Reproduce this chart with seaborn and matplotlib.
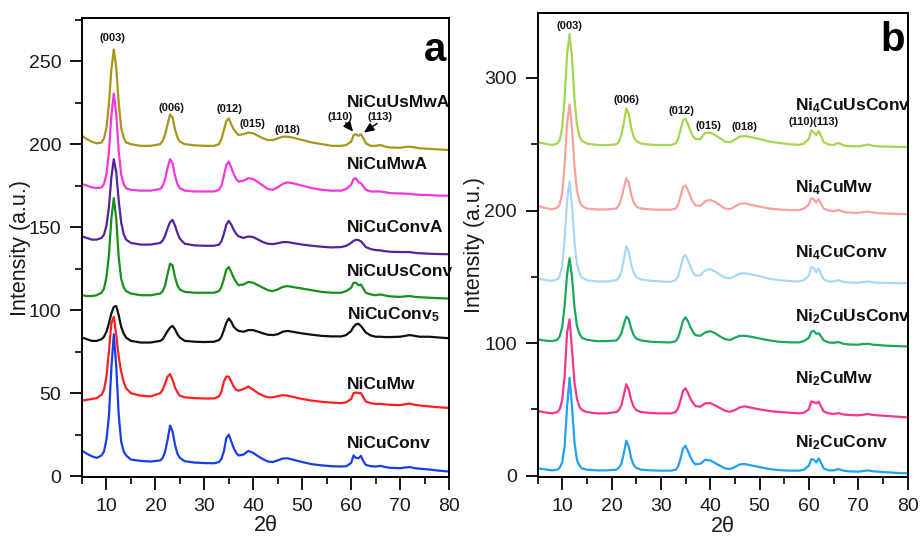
import numpy as np
import pandas as pd
import matplotlib
matplotlib.use("Agg")
import matplotlib.pyplot as plt
from matplotlib.ticker import MultipleLocator
import seaborn as sns

# ---------------- data ----------------
two_theta = [5, 6, 7, 8, 9, 9.5, 10, 10.5, 11, 11.5, 12, 12.5, 13, 13.5, 14, 15, 17, 19,
             21, 21.5, 22, 22.5, 23, 23.5, 24, 24.5, 25, 26, 28, 30, 32, 33, 33.5, 34, 34.5,
             35, 35.5, 36, 36.5, 37, 38, 39, 40, 41, 42, 43, 44, 45, 46, 47, 48, 50, 52, 54,
             56, 58, 59, 60, 60.5, 61, 61.5, 62, 62.5, 63, 64, 65, 66, 67, 68, 70, 71, 72,
             73, 74, 76, 78, 80]

# panel a
NiCuConv = [15.3, 13.5, 12, 11, 12.5, 15, 22, 36, 65, 85.5, 66, 37, 21, 15, 12.5, 10, 9.2, 8.8,
            9.5, 11, 15, 22, 30.5, 27, 19, 13.5, 11, 9, 8.2, 7.9, 7.8, 8.5, 10.5, 15, 23,
            25, 21, 17, 14, 12.5, 13, 15.2, 14, 12, 10.2, 8.8, 8.5, 9.5, 10.6, 10.8, 10, 8.5, 7.2, 6.5,
            6, 5.8, 6, 8, 12.5, 11, 10.8, 12.2, 9, 6.8, 6, 5.8, 6.2, 5.5, 5, 4.8, 5.2, 5.5,
            4.8, 4.5, 4, 3.3, 2.8]
NiCuMw = [45.5, 46, 46.5, 47, 49, 52, 60, 75, 92, 96, 85, 72, 63, 57, 53, 50, 48.5, 48,
          50, 52, 56, 60, 61.4, 58, 53.5, 50.5, 48.5, 47.5, 47, 46.8, 46.8, 48, 51, 57, 60,
          60, 57, 54, 52, 51.5, 52.5, 54, 52, 50, 48.5, 47.5, 47.5, 48.2, 48.8, 48.5, 47.8, 46.5, 45.5, 44.8,
          44.3, 44, 44.5, 46.5, 50, 50.4, 50, 50, 47.5, 45, 44, 43.5, 43.5, 43.2, 43, 42.8, 43.3, 43.7,
          43, 42.6, 42, 41.5, 41.1]
NiCuConv5 = [83.5, 82.5, 81.5, 81.5, 82.5, 84, 87, 92, 98, 102, 102.5, 97, 90, 86, 83.5, 81.5, 80.5, 80.5,
             81.5, 82.5, 85, 87.5, 89.5, 90.5, 88.5, 85.5, 83.5, 81.5, 81, 80.8, 81, 82, 84, 88, 92.5,
             95, 93, 90, 88.5, 87.5, 87, 88, 88, 87, 86, 85.2, 85, 85.5, 87, 87.5, 87, 86, 85.2, 84.5,
             84.2, 84.2, 85, 87.5, 90, 91.5, 91.8, 90.5, 88.5, 86.5, 84.8, 84, 84, 83.8, 83.8, 84, 84.5, 85,
             84.5, 84, 84, 83.5, 83.1]
NiCuUsConv = [109, 108.5, 108.5, 109, 110.5, 113, 120, 133, 155, 167.5, 155, 132, 119, 114, 111.5, 110, 109, 109,
              110, 111.5, 115, 122, 128, 127, 120, 115, 112.5, 111, 110.5, 110.5, 110.5, 111.5, 114, 119, 124.5,
              126, 123, 119.5, 117, 115, 115.5, 117, 116.5, 115, 113.5, 112, 111.5, 112.5, 114, 114.5, 114, 113, 112, 111,
              110.5, 110.5, 111.5, 113.5, 116.5, 116.5, 115, 115.5, 113, 110.5, 109.5, 109, 109.5, 108.8, 108.3, 108, 108.3, 108.5,
              108, 107.8, 107.5, 107.2, 107]
NiCuConvA = [144.4, 143.5, 142.5, 142.5, 143.5, 145.5, 151, 162, 180, 191, 183, 166, 153, 146, 142.5, 140.5, 139.5, 139.5,
             140.5, 142, 145, 149.5, 153, 154.4, 151, 146.5, 143, 140, 139, 138.8, 138.8, 139.5, 141.5, 146, 151.5,
             153.8, 151.5, 148.5, 146, 144.5, 143.5, 144.4, 144, 142.5, 141, 140, 139.8, 140.3, 141, 141, 140.5, 139.5, 138.8, 138.2,
             137.8, 138, 138.8, 140.5, 141.8, 142.4, 142.2, 141.5, 139.8, 138, 136.8, 136.2, 136, 135.5, 135.2, 135, 135, 135,
             134.5, 134.3, 134, 133.8, 133.7]
NiCuMwA = [176, 175, 174, 173.5, 174, 176, 182, 195, 217, 230.5, 218, 196, 182, 176, 173.5, 172.5, 172, 172,
           173, 175, 179, 186, 191, 188.5, 181, 176, 173.5, 172, 171.5, 171.5, 171.5, 172.5, 175, 181, 187.5,
           189.5, 186, 182, 179, 177.5, 178, 179.5, 179, 177, 175, 173, 172.5, 174, 176, 177, 176.5, 175, 173.5, 172.5,
           172, 172, 173, 175.5, 179, 179.5, 177, 176.5, 174.5, 172.5, 171.5, 171.5, 171.5, 171, 170.5, 170.3, 170.2, 170,
           169.7, 169.5, 169.3, 169, 169]
NiCuUsMwA = [205, 203, 201.5, 200.5, 201, 203.5, 210, 224, 245, 257, 246, 225, 210, 204, 201, 200, 199, 199,
             200, 202, 206, 212, 218, 216, 209, 204, 201.5, 200, 199.3, 199, 199, 200, 203, 208.5, 214,
             215.5, 212, 209, 207, 205.5, 206, 207, 206.5, 205, 203.5, 202.5, 202.5, 203.5, 204.5, 204.5, 204, 202.5, 201, 200,
             199, 199, 199.5, 201.5, 205.5, 206, 205, 206, 203.5, 200.5, 199, 199, 199.5, 198.5, 198, 197.8, 198.3, 198.5,
             198, 197.5, 197.2, 196.8, 196.5]

# panel b
Ni2CuConv = [5.5, 5, 4.5, 4, 4.5, 6, 10, 22, 52, 74, 52, 25, 12, 7.5, 5.5, 4.5, 4, 4,
             4.5, 6, 9, 17, 26.4, 22, 13, 8, 6, 4.5, 4, 3.8, 3.8, 4.5, 7, 13, 20.5,
             22.6, 18.5, 14, 10.5, 8.5, 9, 12, 11.5, 9.5, 7.5, 5.5, 5, 6.5, 8.5, 8.8, 8, 6.5, 5, 4.2,
             3.8, 3.8, 4.5, 7.5, 12.5, 12, 10, 13, 9.5, 5.5, 4, 4, 5, 3.8, 3.3, 3, 3.5, 4,
             3.3, 3, 2.5, 2, 1.8]
Ni2CuMw = [49, 48, 47.5, 47, 48, 50, 57, 75, 108, 118, 95, 70, 58, 52, 49.5, 48, 47, 47,
           48, 49.5, 53, 61, 69, 65, 57, 52, 49.5, 48, 47.2, 47, 47, 48, 51, 57, 64,
           65.9, 62.5, 58, 55, 52.5, 52, 54.5, 54.8, 53, 51, 49, 48.2, 49.5, 51.5, 52.3, 51.5, 50, 48.8, 48,
           47.5, 47, 47.5, 50, 56, 55.5, 54.5, 55.8, 52, 48.5, 47, 46.5, 47.2, 46.2, 45.8, 45.5, 46, 46.5,
           45.8, 45.5, 45, 44.5, 44]
Ni2CuUsConv = [103, 102.2, 101.7, 101.5, 102.5, 105, 112, 128, 152, 164, 150, 127, 113, 107, 104, 102.5, 101.5, 101.5,
               102, 104, 107.5, 114, 120, 118, 111, 106, 103.5, 102, 101, 100.7, 100.5, 101.5, 104, 110, 117,
               119.4, 116.5, 112, 108.5, 106, 105.5, 108, 109, 107.5, 105, 103, 102.3, 104, 105.5, 105.5, 105, 103.5, 102, 101,
               100.6, 100.5, 101.5, 104, 108.5, 109.3, 107, 107.5, 105, 102, 100.5, 100.2, 100.8, 99.5, 99, 98.8, 99.3, 99.5,
               98.8, 98.5, 98, 97.7, 97.5]
Ni4CuConv = [148.7, 148, 147.3, 147, 148, 150.5, 158, 178, 208, 222, 203, 176, 160, 153, 149.5, 147.5, 146.5, 146.5,
             147.5, 149.5, 154, 163, 173, 169, 159, 153, 150, 148, 147, 146.5, 146.2, 147.5, 150.5, 157, 164.5,
             166.5, 162.5, 157.5, 153.5, 151, 151, 155, 155.8, 154, 151.5, 149.5, 148.7, 150.5, 152.5, 152.7, 152, 150.5, 148.5, 147.5,
             146.8, 146.5, 147.5, 151, 157.5, 156.5, 153.5, 156.3, 152, 148, 146.5, 146.5, 147.5, 146.2, 145.8, 145.5, 146, 146.5,
             145.8, 145.6, 145.4, 145.2, 145.2]
Ni4CuMw = [203.5, 202.5, 201.5, 201, 202, 204.5, 213, 235, 266, 280, 262, 233, 215, 207, 203.5, 201.5, 200.8, 200.8,
           201.5, 204, 209, 217, 224.3, 221, 212, 206, 203, 201.5, 200.8, 200.6, 200.6, 201.5, 204.5, 211, 217.5,
           219, 215.5, 210.5, 206.5, 204, 203.5, 207, 208, 206.5, 204, 201.5, 201, 203, 205, 205.5, 204.5, 203, 201.5, 200.8,
           200.3, 200.3, 201.5, 204.5, 209.3, 208.5, 206, 208.5, 205, 201.5, 200, 199.5, 200.5, 199, 198.5, 198.2, 198.8, 199.2,
           198.5, 198, 197.7, 197.4, 197.2]
Ni4CuUsConv = [251.7, 250.8, 250, 249.5, 250.5, 253, 262, 285, 318, 333, 315, 284, 265, 256, 252.5, 250.5, 249.5, 249.3,
               250, 252, 257, 266, 276.9, 273, 262, 255.5, 252.5, 250.5, 249.6, 249.4, 249.4, 250.5, 254, 261, 268,
               269.3, 265, 260, 256, 254, 254, 258.5, 258.8, 257, 254.5, 252, 251.5, 253.5, 255.8, 256.2, 255.5, 254, 252, 251,
               250, 249.6, 250.5, 254, 260.5, 259, 257, 260, 256, 251.5, 249.8, 249.5, 251, 249.2, 248.6, 248.4, 249, 249.8,
               248.8, 248.4, 248.2, 248, 247.9]

# labels / names
series_a = ["NiCuConv", "NiCuMw", "NiCuConv5", "NiCuUsConv", "NiCuConvA", "NiCuMwA", "NiCuUsMwA"]
values_a = [NiCuConv, NiCuMw, NiCuConv5, NiCuUsConv, NiCuConvA, NiCuMwA, NiCuUsMwA]
labels_a = ["NiCuConv", "NiCuMw", "NiCuConv$_\\mathbf{5}$", "NiCuUsConv", "NiCuConvA", "NiCuMwA", "NiCuUsMwA"]
label_y_a = [19.7, 55.4, 97.6, 123, 150, 187.5, 225]
colors_a = ["#1a3ee6", "#ff1f1f", "#111111", "#16901a", "#55239c", "#f636dc", "#a8961c"]

series_b = ["Ni2CuConv", "Ni2CuMw", "Ni2CuUsConv", "Ni4CuConv", "Ni4CuMw", "Ni4CuUsConv"]
values_b = [Ni2CuConv, Ni2CuMw, Ni2CuUsConv, Ni4CuConv, Ni4CuMw, Ni4CuUsConv]
labels_b = ["Ni$_\\mathbf{2}$CuConv", "Ni$_\\mathbf{2}$CuMw", "Ni$_\\mathbf{2}$CuUsConv",
            "Ni$_\\mathbf{4}$CuConv", "Ni$_\\mathbf{4}$CuMw", "Ni$_\\mathbf{4}$CuUsConv"]
label_y_b = [25, 73.4, 120, 168, 217, 279]
colors_b = ["#21a2f0", "#f5378c", "#1aa85e", "#a8d8f7", "#f7a29d", "#a6d650"]

hkl_a = ["(003)", "(006)", "(012)", "(015)", "(018)", "(110)", "(113)"]
hkl_a_x = [11.3, 23.3, 35.1, 39.9, 47.0, 57.8, 66.0]
hkl_a_y = [264, 222, 221, 212, 208.5, 216.5, 216.5]
hkl_b = ["(003)", "(006)", "(012)", "(015)", "(018)", "(110)(113)"]
hkl_b_x = [11.4, 23.1, 34.2, 39.6, 47.0, 61.0]
hkl_b_y = [339, 283, 275, 264, 263, 267]

# ---------------- style ----------------
sns.set_theme(style="ticks")
plt.rcParams["font.family"] = ["Liberation Sans", "DejaVu Sans"]
plt.rcParams["mathtext.fontset"] = "custom"
plt.rcParams["mathtext.rm"] = "Liberation Sans"
plt.rcParams["mathtext.bf"] = "Liberation Sans:bold"
plt.rcParams["mathtext.it"] = "Liberation Sans:italic"

fig = plt.figure(figsize=(9.21, 5.36), dpi=100)
ax_a = fig.add_axes([82 / 921, 59 / 536, 367 / 921, 459 / 536])
ax_b = fig.add_axes([537.5 / 921, 59 / 536, 370 / 921, 464 / 536])


def build(names, vals):
    frames = []
    for n, v in zip(names, vals):
        frames.append(pd.DataFrame({"two_theta": two_theta, "intensity": v, "sample": n}))
    return pd.concat(frames, ignore_index=True)


df_a = build(series_a, values_a)
df_b = build(series_b, values_b)

sns.lineplot(data=df_a, x="two_theta", y="intensity", hue="sample", hue_order=series_a,
             palette=colors_a, linewidth=1.6, legend=False, ax=ax_a, sort=False)
sns.lineplot(data=df_b, x="two_theta", y="intensity", hue="sample", hue_order=series_b,
             palette=colors_b, linewidth=1.6, legend=False, ax=ax_b, sort=False)


def style_axes(ax, ylim, ymajor, yminor):
    ax.set_xlim(5, 80)
    ax.set_ylim(*ylim)
    ax.xaxis.set_major_locator(MultipleLocator(10))
    ax.xaxis.set_minor_locator(MultipleLocator(5))
    ax.yaxis.set_major_locator(MultipleLocator(ymajor))
    ax.yaxis.set_minor_locator(MultipleLocator(yminor))
    ax.tick_params(axis="both", which="major", direction="out", length=9, width=1.3,
                   labelsize=14, color="black", labelcolor="#1a1a1a", pad=6)
    ax.tick_params(axis="both", which="minor", direction="out", length=5, width=1.2, color="black")
    for s in ax.spines.values():
        s.set_visible(True)
        s.set_linewidth(1.4)
        s.set_color("black")
    ax.set_xlabel("2θ", fontsize=15.5, color="#1a1a1a")
    ax.set_ylabel("Intensity (a.u.)", fontsize=15.5, color="#1a1a1a")


style_axes(ax_a, (-0.5, 276), 50, 25)
style_axes(ax_b, (-1, 349), 100, 50)
ax_a.set_xticks([10, 20, 30, 40, 50, 60, 70, 80])
ax_b.set_xticks([10, 20, 30, 40, 50, 60, 70, 80])

for lab, y in zip(labels_a, label_y_a):
    ax_a.text(59.2, y, lab, fontsize=12.5, fontweight="bold", ha="left", va="center", color="#111111")
for lab, y in zip(labels_b, label_y_b):
    ax_b.text(57.1, y, lab, fontsize=12.5, fontweight="bold", ha="left", va="center", color="#111111")

for t, x, y in zip(hkl_a, hkl_a_x, hkl_a_y):
    ax_a.text(x, y, t, fontsize=8, fontweight="bold", ha="center", va="center", color="#111111")
for t, x, y in zip(hkl_b, hkl_b_x, hkl_b_y):
    ax_b.text(x, y, t, fontsize=8, fontweight="bold", ha="center", va="center", color="#111111")

arrow = dict(arrowstyle="-|>,head_length=0.5,head_width=0.22", color="black", lw=1.0,
             shrinkA=0, shrinkB=0)
ax_a.annotate("", xy=(60.4, 207.5), xytext=(58.9, 213), arrowprops=arrow)
ax_a.annotate("", xy=(62.6, 207), xytext=(65.3, 212.5), arrowprops=arrow)

ax_a.text(0.992, 0.93, "a", transform=ax_a.transAxes, fontsize=29, fontweight="bold",
          ha="right", va="center", color="black")
ax_b.text(0.993, 0.942, "b", transform=ax_b.transAxes, fontsize=29, fontweight="bold",
          ha="right", va="center", color="black")

# axis-label positions (pixel-matched)
ax_a.yaxis.set_label_coords(-0.14, 0.5)
ax_b.yaxis.set_label_coords(-0.142, 0.5)
ax_a.xaxis.set_label_coords(0.5, -0.083)
ax_b.xaxis.set_label_coords(0.5, -0.083)

fig.savefig("out.png", dpi=100, facecolor="white")
